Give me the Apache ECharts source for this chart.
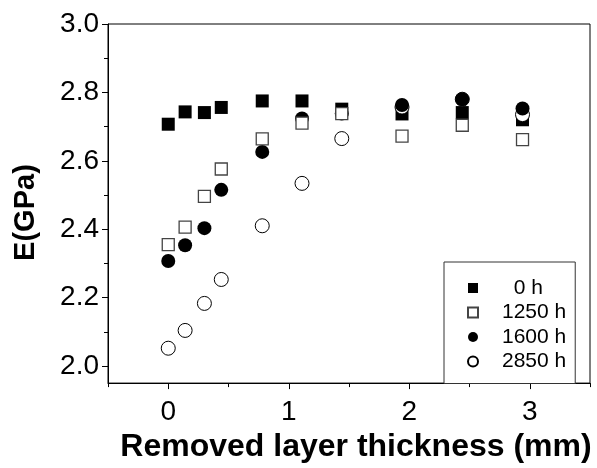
<!DOCTYPE html>
<html>
<head>
<meta charset="utf-8">
<script src="https://cdn.jsdelivr.net/npm/echarts@6/dist/echarts.min.js"></script>
<style>
html,body{margin:0;padding:0;background:#fff;}
#chart{width:597px;height:468px;}
</style>
</head>
<body>
<div id="chart"></div>
<script>
// Removed layer thickness (mm)
const thickness = [0, 0.14, 0.30, 0.44, 0.78, 1.11, 1.44, 1.94, 2.44, 2.94];
// E (GPa) per ageing time
const e0h    = [2.707, 2.743, 2.741, 2.756, 2.775, 2.775, 2.751, 2.737, 2.741, 2.720];
const e1250h = [2.355, 2.406, 2.496, 2.576, 2.664, 2.710, 2.738, 2.672, 2.704, 2.662];
const e1600h = [2.307, 2.353, 2.403, 2.515, 2.626, 2.724, 2.738, 2.763, 2.780, 2.753];
const e2850h = [2.052, 2.104, 2.183, 2.253, 2.410, 2.534, 2.665, 2.757, 2.780, 2.735];

const xMajorTicks = [0, 1, 2, 3];
const xMinorTicks = [-0.5, 0.5, 1.5, 2.5, 3.5];
const yMajorTicks = [2.0, 2.2, 2.4, 2.6, 2.8, 3.0];
const yMinorTicks = [2.1, 2.3, 2.5, 2.7, 2.9];

function pairs(xs, ys) { return xs.map((x, i) => [x, ys[i]]); }

const FONT = '"Liberation Sans", Arial, sans-serif';
const SQUARE = 'path://M0,0L10,0L10,10L0,10Z';
const chart = echarts.init(document.getElementById('chart'), null, {renderer: 'canvas'});

const baseX = {type: 'value', min: -0.5, max: 3.5, gridIndex: 0, position: 'bottom', splitLine: {show: false}};
const baseY = {type: 'value', min: 1.95, max: 3.0, gridIndex: 0, position: 'left', splitLine: {show: false}};

chart.setOption({
  animation: false,
  backgroundColor: '#fff',
  grid: {left: 108, right: 7, top: 24, bottom: 78, show: true, borderColor: '#000', borderWidth: 1, backgroundColor: 'transparent'},
  xAxis: [
    Object.assign({}, baseX, {
      name: 'Removed layer thickness (mm)',
      nameLocation: 'middle',
      nameGap: 47,
      nameTextStyle: {fontFamily: FONT, fontSize: 32, fontWeight: 'bold', color: '#000', padding: [0, 0, 0, 14]},
      axisLine: {show: true, onZero: false, lineStyle: {color: '#000', width: 1}},
      axisTick: {show: true, customValues: xMajorTicks, length: 6, lineStyle: {color: '#000', width: 1}},
      axisLabel: {show: true, customValues: xMajorTicks, margin: 15, fontFamily: FONT, fontSize: 28, color: '#000'}
    }),
    Object.assign({}, baseX, {
      axisLine: {show: false, onZero: false},
      axisTick: {show: true, customValues: xMinorTicks, length: 4, lineStyle: {color: '#000', width: 1}},
      axisLabel: {show: false}
    })
  ],
  yAxis: [
    Object.assign({}, baseY, {
      name: 'E(GPa)',
      nameLocation: 'middle',
      nameGap: 68,
      nameTextStyle: {fontFamily: FONT, fontSize: 29, fontWeight: 'bold', color: '#000', padding: [0, 18, 0, 0]},
      axisLine: {show: true, onZero: false, lineStyle: {color: '#000', width: 1}},
      axisTick: {show: true, customValues: yMajorTicks, length: 6, lineStyle: {color: '#000', width: 1}},
      axisLabel: {show: true, customValues: yMajorTicks, margin: 9, fontFamily: FONT, fontSize: 28, color: '#000',
                  formatter: v => Number(v).toFixed(1)}
    }),
    Object.assign({}, baseY, {
      axisLine: {show: false, onZero: false},
      axisTick: {show: true, customValues: yMinorTicks, length: 4, lineStyle: {color: '#000', width: 1}},
      axisLabel: {show: false}
    })
  ],
  legend: {
    orient: 'vertical',
    left: 444,
    top: 262,
    data: [
      {name: '0 h', icon: SQUARE},
      {name: '1250 h', icon: SQUARE},
      {name: '1600 h', icon: 'circle'},
      {name: '2850 h', icon: 'circle'}
    ],
    itemWidth: 48,
    itemHeight: 10,
    symbolKeepAspect: true,
    itemGap: 0.5,
    padding: [14, 9, 10, 23],
    borderColor: '#333',
    borderWidth: 1,
    backgroundColor: '#fff',
    selectedMode: false,
    formatter: n => (n === '0 h' ? '  0 h' : n),
    textStyle: {fontFamily: FONT, fontSize: 21, color: '#000', lineHeight: 24}
  },
  series: [
    {name: '0 h', type: 'scatter', data: pairs(thickness, e0h), symbol: 'rect', symbolSize: 13,
     itemStyle: {color: '#000', borderWidth: 0, opacity: 1}, silent: true},
    {name: '2850 h', type: 'scatter', data: pairs(thickness, e2850h), symbol: 'circle', symbolSize: 14,
     itemStyle: {color: '#fff', borderColor: '#000', borderWidth: 1, opacity: 1}, silent: true},
    {name: '1600 h', type: 'scatter', data: pairs(thickness, e1600h), symbol: 'circle', symbolSize: 14,
     itemStyle: {color: '#000', borderWidth: 0, opacity: 1}, silent: true},
    {name: '1250 h', type: 'scatter', data: pairs(thickness, e1250h), symbol: 'rect', symbolSize: 12,
     itemStyle: {color: '#fff', borderColor: '#444', borderWidth: 1.3, opacity: 1}, silent: true}
  ]
});
</script>
</body>
</html>
